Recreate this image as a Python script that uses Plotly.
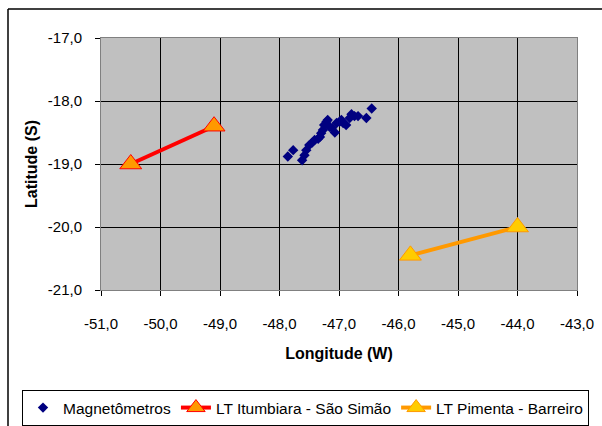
import plotly.graph_objects as go

# Magnetometer stations (longitude, latitude)
mag_lon = [-47.86, -47.77, -47.62, -47.58, -47.55, -47.50, -47.45, -47.41, -47.32,
           -47.30, -47.27, -47.25, -47.21, -47.19, -47.16, -47.07, -47.04, -46.99,
           -46.93, -46.88, -46.82, -46.79, -46.74, -46.68, -46.54, -46.45,
           -47.35, -47.22, -47.12, -46.96]
mag_lat = [-18.88, -18.78, -18.94, -18.86, -18.78, -18.70, -18.66, -18.62, -18.57,
           -18.51, -18.46, -18.38, -18.33, -18.30, -18.41, -18.50, -18.35, -18.33,
           -18.35, -18.38, -18.27, -18.21, -18.24, -18.24, -18.27, -18.12,
           -18.60, -18.36, -18.43, -18.30]

# Transmission lines
lt1_lon = [-50.5, -49.1]
lt1_lat = [-19.0, -18.4]
lt2_lon = [-45.8, -44.0]
lt2_lat = [-20.45, -20.0]

x_ticks = [-51, -50, -49, -48, -47, -46, -45, -44, -43]
x_labels = ["-51,0", "-50,0", "-49,0", "-48,0", "-47,0", "-46,0", "-45,0", "-44,0", "-43,0"]
y_ticks = [-17, -18, -19, -20, -21]
y_labels = ["-17,0", "-18,0", "-19,0", "-20,0", "-21,0"]

fig = go.Figure()
fig.add_trace(go.Scatter(x=mag_lon, y=mag_lat, mode="markers", name="Magnetômetros",
                         marker=dict(symbol="diamond", size=8, color="#000080")))
fig.add_trace(go.Scatter(x=lt1_lon, y=lt1_lat, mode="lines+markers",
                         name="LT Itumbiara - São Simão",
                         line=dict(color="#FF0000", width=4),
                         marker=dict(symbol="triangle-up", size=19, color="#FF9900",
                                     line=dict(color="#FF0000", width=1))))
fig.add_trace(go.Scatter(x=lt2_lon, y=lt2_lat, mode="lines+markers",
                         name="LT Pimenta - Barreiro",
                         line=dict(color="#FF9900", width=4),
                         marker=dict(symbol="triangle-up", size=19, color="#FFCC00",
                                     line=dict(color="#FF9900", width=1))))

W, H = 602, 426
L, R, T, B = 101, 577, 38, 290
pw, ph = R - L, B - T

def px(x):
    return (x - L) / pw

def py(y):
    return 1 - (y - T) / ph

fig.update_layout(
    width=W, height=H,
    margin=dict(l=L, r=W - R, t=T, b=H - B, autoexpand=False),
    paper_bgcolor="white",
    plot_bgcolor="#C0C0C0",
    font=dict(family="Liberation Sans, Arial, sans-serif", size=15, color="black"),
    showlegend=True,
    legend=dict(orientation="h", x=px(22), y=py(390), xanchor="left", yanchor="top",
                bordercolor="black", borderwidth=1, bgcolor="white",
                font=dict(size=15.5), itemwidth=30, tracegroupgap=0),
    xaxis=dict(range=[-51, -43], tickvals=x_ticks, ticktext=x_labels,
               showgrid=True, gridcolor="black", gridwidth=1,
               showline=True, linecolor="#808080", linewidth=1, mirror=True,
               ticks="outside", ticklen=5, tickcolor="black",
               ticklabelstandoff=15, zeroline=False,
               title=dict(text="<b>Longitude (W)</b>", font=dict(size=16), standoff=16)),
    yaxis=dict(range=[-21, -17], tickvals=y_ticks, ticktext=y_labels,
               showgrid=True, gridcolor="black", gridwidth=1,
               showline=True, linecolor="#808080", linewidth=1, mirror=True,
               ticks="outside", ticklen=5, tickcolor="black",
               ticklabelstandoff=10, zeroline=False,
               title=dict(text="<b>Latitude (S)</b>", font=dict(size=16), standoff=6)),
    shapes=[
        dict(type="line", xref="paper", yref="paper", x0=px(8), x1=px(640), y0=py(9), y1=py(9),
             line=dict(color="black", width=1.5)),
        dict(type="line", xref="paper", yref="paper", x0=px(8), x1=px(8), y0=py(9), y1=py(440),
             line=dict(color="black", width=1.5)),
    ],
)

fig.write_html("out.html")
